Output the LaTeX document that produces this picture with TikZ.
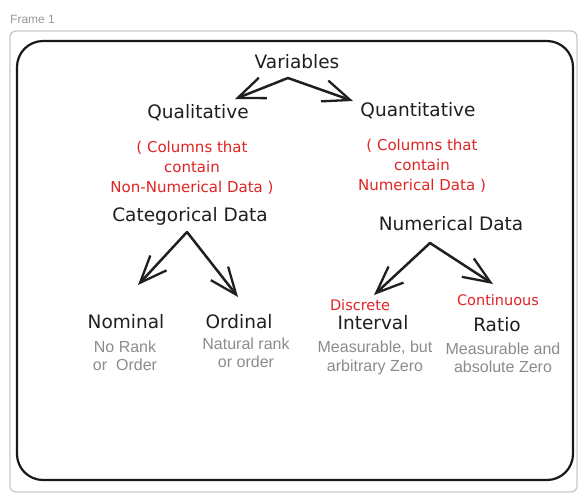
\documentclass[tikz,border=0pt]{standalone}
\usepackage{fontspec}
\setmainfont{Liberation Sans}
\newfontfamily\hand{DejaVu Sans}
\usetikzlibrary{arrows.meta}
\definecolor{redtxt}{RGB}{224,36,36}
\definecolor{graytxt}{RGB}{140,140,140}
\definecolor{framegray}{RGB}{200,200,200}
\tikzset{
  hw/.style={font=\hand\fontsize{18.5}{20}\selectfont, text=black!88, inner sep=1pt},
  redt/.style={font=\hand\fontsize{15}{20}\selectfont, text=redtxt, align=center, inner sep=1pt},
  grayt/.style={font=\fontsize{16}{18.5}\selectfont, text=graytxt, align=center, inner sep=1pt},
  arr/.style={line width=2.5pt, black!88, line cap=round, -{Straight Barb[length=27pt,width=22pt,line width=2.3pt]}}
}
\begin{document}
\begin{tikzpicture}[x=1pt,y=-1pt]
\useasboundingbox (0,0) rectangle (585,501);
\fill[white] (0,0) rectangle (585,501);
\node[font=\fontsize{12}{14}\selectfont, text=black!40, anchor=west, inner sep=0] (frame) at (10,19) {Frame 1};
\draw[framegray, line width=1.3pt, rounded corners=6pt] (10,31) rectangle (577,492);
\draw[black!90, line width=2.2pt, rounded corners=26pt] (17,41) rectangle (573,480);

\node[hw] (var) at (297,62) {Variables};
\node[hw] (qual) at (198,113) {Qualitative};
\node[hw] (quant) at (418,111) {Quantitative};
\node[redt] (qualnote) at (192,168) {( Columns that\\contain\\Non-Numerical Data )};
\node[redt] (quantnote) at (422,166) {( Columns that\\contain\\Numerical Data )};
\node[hw] (cat) at (190,216) {Categorical Data};
\node[hw] (num) at (451,224) {Numerical Data};

\node[hw] (nom) at (126,322) {Nominal};
\node[grayt] (nomd) at (125,356) {No Rank\\or\ \ Order};
\node[hw] (ord) at (239,322) {Ordinal};
\node[grayt] (ordd) at (246,353) {Natural rank\\or order};
\node[redt, font=\hand\fontsize{14.5}{16}\selectfont] (disc) at (360,305) {Discrete};
\node[hw] (int) at (373,323) {Interval};
\node[grayt] (intd) at (375,358) {Measurable, but\\arbitrary Zero};
\node[redt, font=\hand\fontsize{14.5}{16}\selectfont] (cont) at (498,300) {Continuous};
\node[hw] (rat) at (497,325) {Ratio};
\node[grayt] (ratd) at (503,358) {Measurable and\\absolute Zero};

\coordinate (v0) at (288,78);
\coordinate (c0) at (187,232);
\coordinate (n0) at (430,243);
\draw[arr] (v0) -- (235,99) coordinate (qa);
\draw[arr] (v0) -- (353,101) coordinate (qb);
\draw[arr] (c0) -- (138,285) coordinate (ca);
\draw[arr] (c0) -- (238,297) coordinate (cb);
\draw[arr] (n0) -- (374,295) coordinate (na);
\draw[arr] (n0) -- (493,284) coordinate (nb);
\end{tikzpicture}
\end{document}
